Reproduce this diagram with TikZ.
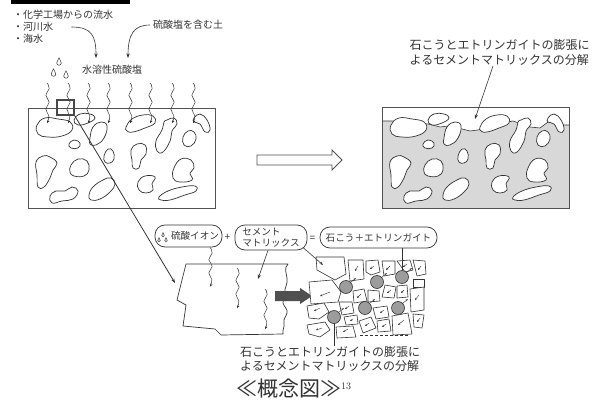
\documentclass[tikz,border=0pt]{standalone}
\usepackage{fontspec}
\newfontfamily\jp{Noto Sans CJK JP}
\usetikzlibrary{arrows.meta}
\definecolor{ink}{HTML}{333333}
\definecolor{paste}{HTML}{D8D8D8}
\definecolor{lump}{HTML}{9C9C9C}
\definecolor{barrow}{HTML}{505050}

% one aggregate grain, drawn as a closed smooth curve
\newcommand\grain[2]{\draw[agg,fill=#1] plot[smooth cycle, tension=0.75] coordinates {#2};}
% all grains of the concrete block (left block coordinates)
\newcommand\allgrains[1]{%
  \grain{#1}{(37,125) (45,118) (58,119) (70,122) (72,130) (62,136) (48,137) (38,134)}
  \grain{#1}{(74,120) (80,114) (90,114) (95,118) (88,123) (78,125)}
  \grain{#1}{(90,138) (93,127) (101,122) (107,126) (104,138) (96,145) (90,144)}
  \grain{#1}{(126,127) (132,119) (143,115) (153,116) (155,123) (145,128) (133,132) (127,131)}
  \grain{#1}{(167,120) (174,118) (177,124) (172,131) (170,141) (163,152) (157,151) (156,141) (162,130) (164,122)}
  \grain{#1}{(194,118) (200,114) (207,120) (210,130) (205,132) (200,124) (194,122)}
  \grain{#1}{(69,144) (74,140) (80,143) (78,148) (71,148)}
  \grain{#1}{(183,137) (188,131) (194,132) (196,139) (191,146) (184,145)}
  \grain{#1}{(132,160) (131,150) (137,144) (145,145) (146,154) (141,160) (139,168) (133,168)}
  \grain{#1}{(104,156) (108,149) (113,151) (114,159) (110,163) (105,162)}
  \grain{#1}{(36,162) (43,156) (50,157) (57,163) (53,170) (50,178) (44,187) (38,187) (37,175)}
  \grain{#1}{(71,165) (78,159) (87,161) (89,170) (84,176) (74,176) (70,172)}
  \grain{#1}{(174,168) (181,159) (191,160) (194,168) (190,173) (192,180) (180,182) (173,178)}
  \grain{#1}{(89,195) (93,187) (103,180) (111,178) (115,184) (110,192) (100,199) (91,200)}
  \grain{#1}{(138,182) (145,176) (155,177) (152,184) (153,190) (146,193) (139,190)}
  \grain{#1}{(50,196) (56,191) (65,191) (72,187) (78,191) (73,199) (62,201) (52,203)}
  \grain{#1}{(159,197) (168,191) (182,187) (195,186) (196,191) (185,195) (170,200) (161,200)}
}
% wavy path of water moving down: x, start y, length
\newcommand\wavy[3]{\draw[wave] plot[smooth, tension=0.9] coordinates {(#1,#2) ({#1+2.2},{#2+#3*0.14}) ({#1-1.2},{#2+#3*0.31}) ({#1+2.2},{#2+#3*0.48}) ({#1-1.2},{#2+#3*0.65}) ({#1+1.8},{#2+#3*0.82}) (#1,{#2+#3})};}
% water drop: x, y of the round part, size
\newcommand\waterdrop[3]{\draw[ink, line width=0.5pt] (#1,{#2-2.2*#3}) .. controls ({#1+0.3*#3},{#2-1.2*#3}) and ({#1+#3},{#2-0.7*#3}) .. ({#1+#3},{#2}) .. controls ({#1+#3},{#2+1.3*#3}) and ({#1-#3},{#2+1.3*#3}) .. ({#1-#3},{#2}) .. controls ({#1-#3},{#2-0.7*#3}) and ({#1-0.3*#3},{#2-1.2*#3}) .. cycle;}

\tikzset{
  every node/.style={text=ink},
  edge/.style={draw=ink, line width=0.6pt},
  tip/.style={-{Stealth[length=4.5pt,width=3.2pt]}},
  wave/.style={draw=ink, line width=0.5pt, -{Stealth[length=3pt,width=2.4pt]}},
  agg/.style={draw=ink, line width=0.7pt},
  label/.style={font=\jp\fontsize{10}{12}\selectfont, inner sep=0pt},
  note/.style={font=\jp\fontsize{12}{14.5}\selectfont, inner sep=0pt, align=left},
  pill/.style={draw=ink, line width=0.7pt, rounded corners=10pt, inner sep=0pt, font=\jp\fontsize{9.6}{11}\selectfont},
  shard/.style={draw=ink, line width=0.6pt, fill=white, line join=round},
  lumpc/.style={circle, draw=ink, line width=0.6pt, fill=lump, minimum size=13pt, inner sep=0pt},
  mini/.style={draw=ink, line width=0.4pt, -{Stealth[length=2.3pt,width=1.9pt]}},
}

\begin{document}
\begin{tikzpicture}[x=1pt, y=-1pt]
\useasboundingbox (0,0) rectangle (601,403);
\fill[white] (0,0) rectangle (601,403);
\fill[black] (11,0) rectangle (130,4.5);

% ---- sources of sulfate ----
\node[label, anchor=west] (s1) at (13,15) {・化学工場からの流水};
\node[label, anchor=west] (s2) at (13,27) {・河川水};
\node[label, anchor=west] (s3) at (13,38.5) {・海水};
\node[label, anchor=west] (soil) at (153,25) {硫酸塩を含む土};
\node[label] (salt) at (112,70) {水溶性硫酸塩};
\coordinate (inA) at (96,58);
\coordinate (inB) at (128,58);
\draw[edge, tip] (s2.east) ++(18,0) .. controls (92,27) and (96,36) .. (inA);
\draw[edge, tip] (soil.west) ++(-3,0) .. controls (134,25) and (128,34) .. (inB);

\waterdrop{59}{63}{2.3}
\waterdrop{53.5}{74}{2.3}
\waterdrop{66}{76}{2.3}

% ---- concrete block under attack ----
\draw[draw=ink!85, line width=0.9pt, fill=white] (28,108) rectangle (215,208);
\allgrains{white}
\foreach \xx in {47,68,88,108,130,150,172,193} { \wavy{\xx}{83}{40} }
\node[draw=ink!90, line width=1.3pt, minimum width=17pt, minimum height=15pt, inner sep=0pt] (sq) at (65.5,107.5) {};
\coordinate (tipA) at (175,283);
\draw[edge, line width=0.8pt, tip] (sq.south east) -- (tipA);

% ---- transition arrow ----
\draw[draw=ink!85, line width=0.8pt, fill=white, line join=miter]
  (257,155) -- (332,155) -- (332,150) -- (342,160) -- (332,170) -- (332,165) -- (257,165) -- cycle;

% ---- deteriorated block ----
\fill[paste] (382,107) rectangle (569,208);
\fill[white] (382,107) -- (382,121) -- (392,121) -- (428,124) -- (440,127) -- (448,126) -- (458,128)
  -- (470,131) -- (478,130) -- (508,122) -- (513,121) -- (530,127) -- (540,128) -- (548,122)
  -- (565,125) -- (569,125) -- (569,107) -- cycle;
\draw[edge] (382,121) -- (392,121) -- (428,124) -- (440,127) -- (448,126) -- (458,128)
  -- (470,131) -- (478,130) -- (508,122) -- (513,121) -- (530,127) -- (540,128) -- (548,122)
  -- (565,125) -- (569,125);
\begin{scope}[shift={(354,0)}]
  \allgrains{white}
\end{scope}
\draw[draw=ink!85, line width=0.9pt] (382,107) rectangle (569,208);
\node[note, anchor=west] (topnote) at (409.5,52.5) {石こうとエトリンガイトの膨張に\\よるセメントマトリックスの分解};
\coordinate (hitR) at (475,119);
\draw[edge, tip] (493,66) -- (hitR);

% ---- reaction formula ----
\node[pill, minimum width=67pt, minimum height=22pt] (p1) at (188.5,236) {\hspace{13pt}硫酸イオン};
\node[label] (plus) at (227.5,237.5) {+};
\node[pill, minimum width=72pt, minimum height=25pt, align=left] (p2) at (271,237.5) {セメント\\マトリックス\hspace{1pt}};
\node[label] (eq) at (312.5,238.5) {=};
\node[pill, minimum width=117pt, minimum height=21pt] (p3) at (378.5,237.5) {石こう＋エトリンガイト};
\waterdrop{163}{235.5}{1.25}
\waterdrop{159}{240.5}{1.25}
\waterdrop{166}{240.5}{1.25}

% ---- magnified surface of the block ----
\draw[edge, line width=0.7pt, line join=round] (186,264) -- (288,264)
  .. controls (284,268) and (286,272) .. (287,278)
  .. controls (288,285) and (284,288) .. (285,292)
  .. controls (285,297) and (282,299) .. (283,303)
  .. controls (284,307) and (288,309) .. (287,313)
  .. controls (286,317) and (283,319) .. (284,323)
  .. controls (285,327) and (282,330) .. (283,334)
  -- (221,335) -- (215,329) -- (183,326) -- (186,305) -- (177,300) -- cycle;
\wavy{210}{247.5}{39}
\wavy{237}{268}{40}
\wavy{265}{289}{40}
\coordinate (hitM) at (258,279);
\draw[edge, tip] ([xshift=-3pt]p2.south) -- (hitM);

% ---- crushing arrow ----
\fill[barrow] (275,291) -- (300,291) -- (300,288) -- (312,296) -- (300,304) -- (300,301) -- (275,301) -- cycle;

% ---- broken matrix with gypsum / ettringite ----
\draw[shard] (316,257) -- (344,257) -- (346,274) -- (335,280) -- (317,270) -- cycle;
\draw[shard] (348,260) -- (363,260) -- (364,279) -- (350,281) -- cycle;
\draw[shard] (366,261) -- (378,260) -- (380,272) -- (371,275) -- (366,272) -- cycle;
\draw[shard] (382,261) -- (395,261) -- (395,274) -- (384,276) -- cycle;
\draw[shard] (397,261) -- (410,260) -- (413,270) -- (405,272) -- cycle;
\draw[shard] (413,260) -- (425,261) -- (426,274) -- (417,276) -- cycle;
\draw[shard] (413,279) -- (424,279) -- (424,287) -- (413,287) -- cycle;
\draw[shard] (309,282) -- (332,280) -- (341,292) -- (338,302) -- (311,304) -- cycle;
\draw[shard] (353,291) -- (364,289) -- (367,301) -- (354,303) -- cycle;
\draw[shard] (385,285) -- (396,287) -- (394,298) -- (382,297) -- cycle;
\draw[shard] (368,290) -- (379,291) -- (380,301) -- (368,302) -- cycle;
\draw[shard] (397,286) -- (407,285) -- (408,297) -- (397,298) -- cycle;
\draw[shard] (410,289) -- (424,287) -- (424,310) -- (411,312) -- cycle;
\draw[shard] (307,306) -- (324,303) -- (329,312) -- (319,319) -- (309,318) -- cycle;
\draw[shard] (339,302) -- (352,302) -- (354,313) -- (342,315) -- cycle;
\draw[shard] (373,308) -- (387,306) -- (389,317) -- (376,319) -- cycle;
\draw[shard] (344,317) -- (357,315) -- (358,324) -- (346,325) -- cycle;
\draw[shard] (307,325) -- (325,322) -- (330,330) -- (320,337) -- (309,334) -- cycle;
\draw[shard] (336,327) -- (353,326) -- (356,337) -- (337,338) -- cycle;
\draw[shard] (359,321) -- (371,317) -- (376,328) -- (363,333) -- cycle;
\draw[shard] (377,321) -- (389,319) -- (391,331) -- (378,332) -- cycle;
\draw[shard] (392,316) -- (408,313) -- (412,334) -- (393,335) -- cycle;
\draw[shard] (413,314) -- (424,315) -- (422,328) -- (414,327) -- cycle;

\foreach \a/\b/\c/\d in {358/266/355/271, 374/266/370/269, 390/266/386/270, 407/264/403/267,
  421/266/418/270, 330/292/320/296, 361/294/357/298, 391/290/387/293, 404/290/401/293,
  419/295/415/300, 320/308/314/311, 349/306/345/309, 384/310/380/313, 353/319/350/321,
  322/328/316/330, 348/329/343/332, 369/323/365/326, 386/324/382/327, 404/320/398/325,
  420/318/417/322} { \draw[mini] (\a,\b) -- (\c,\d); }

\node[lumpc] (g1) at (346,287) {};
\node[lumpc] (g2) at (377,282) {};
\node[lumpc] (g3) at (402,277) {};
\node[lumpc] (g4) at (365,308) {};
\node[lumpc] (g5) at (398,308) {};
\node[lumpc] (g6) at (334,317) {};
\foreach \g in {g1,g2,g3,g4,g5,g6} { \draw[mini] (\g.45) -- ++(5,-4); }

\draw[edge, dashed, dash pattern=on 3pt off 2pt] (360,335) -- (408,335);

\coordinate (hitS) at (323,265);
\draw[edge, -{Stealth[length=3.5pt,width=2.6pt]}] (303,247.5) -- (hitS);
\draw[edge] (g3.north |- p3.south) -- (g3.north);

\node[note, anchor=north west] (cap) at (240,346) {石こうとエトリンガイトの膨張に\\よるセメントマトリックスの分解};
\draw[edge] (g6.south) -- (g6.south |- cap.north);

% ---- title ----
\node[font=\jp\fontsize{21}{24}\selectfont, inner sep=0pt, anchor=west] (title) at (236,389) {≪概念図≫\raisebox{7pt}{\normalfont\fontsize{10}{12}\selectfont 13}};
\end{tikzpicture}
\end{document}
